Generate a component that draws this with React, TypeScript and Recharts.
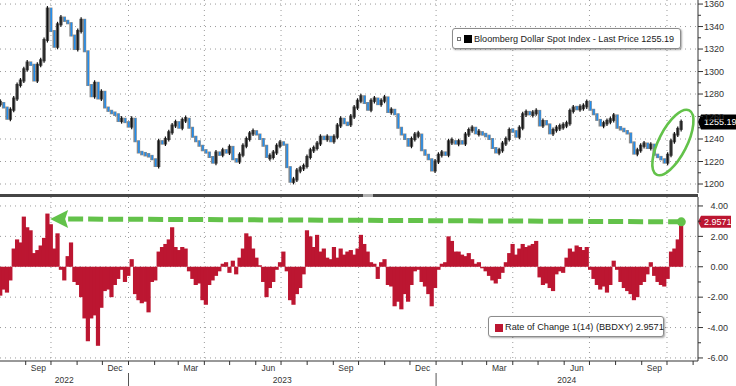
import React from 'react';
import { ComposedChart, Bar, XAxis, YAxis, CartesianGrid, ReferenceLine, ReferenceDot } from 'recharts';

const FONT = "'Liberation Sans', Arial, sans-serif";
const GREEN = '#63c24a';
const ROC_RED = '#bc1631';
const UP_BODY = '#5a5a5a';
const UP_WICK = '#111111';
const DOWN_BODY = '#8a8a8a';
const DOWN_LINE = '#1f8ef1';
const AXIS = '#333333';

// sampling: days relative to 2022-10-01, one sample every 4 calendar days
const FIRST_SAMPLE_DAY = -60;
const SAMPLE_STEP_DAYS = 4;

// Bloomberg Dollar Spot Index, close at each sample
const CLOSE = [
  1272, 1268, 1258, 1266, 1276, 1288, 1292, 1302, 1308, 1306,
  1292, 1306, 1310, 1328, 1356, 1336, 1322, 1342, 1348, 1345,
  1343, 1332, 1320, 1336, 1346, 1318, 1288, 1278, 1290, 1276,
  1282, 1268, 1265, 1263, 1262, 1256, 1258, 1255, 1251, 1258,
  1238, 1228, 1227, 1226, 1225, 1222, 1216, 1238, 1236, 1240,
  1246, 1252, 1255, 1250, 1257, 1258, 1250, 1242, 1238, 1234,
  1230, 1228, 1224, 1219, 1228, 1226, 1230, 1228, 1233, 1222,
  1220, 1226, 1234, 1240, 1245, 1247, 1244, 1240, 1234, 1224,
  1224, 1228, 1234, 1237, 1235, 1215, 1202, 1204, 1212, 1214,
  1216, 1224, 1230, 1232, 1236, 1242, 1240, 1242, 1238, 1242,
  1252, 1258, 1254, 1253, 1260, 1268, 1274, 1278, 1272, 1266,
  1274, 1276, 1271, 1274, 1277, 1264, 1266, 1262, 1250, 1244,
  1240, 1234, 1240, 1244, 1244, 1230, 1226, 1222, 1212, 1220,
  1226, 1228, 1226, 1238, 1238, 1236, 1238, 1236, 1244, 1248,
  1250, 1245, 1246, 1244, 1243, 1240, 1232, 1228, 1230, 1236,
  1240, 1248, 1247, 1242, 1250, 1262, 1264, 1262, 1263, 1265,
  1252, 1256, 1253, 1245, 1248, 1250, 1251, 1252, 1254, 1265,
  1268, 1267, 1268, 1269, 1273, 1266, 1262, 1257, 1252, 1254,
  1256, 1257, 1261, 1250, 1249, 1247, 1245, 1237, 1227, 1230,
  1234, 1236, 1232, 1235, 1226, 1224, 1222, 1219, 1226, 1238,
  1244, 1249, 1255.19,
];

// Rate of Change 1(14) (BBDXY), percent, at each sample
const ROC = [
  -1.9, -1.5, -1.7, -0.9, 1.2, 1.8, 1.6, 3.3, 2.6, 2.4,
  0.9, 1.1, 1.4, 1.9, 3.5, 2.8, 1.2, 2.2, -0.2, -0.9,
  0.7, 1.6, -1.0, -1.2, -2.0, -3.4, -4.9, -3.4, -3.2, -5.2,
  -2.7, -1.6, -1.5, -2.0, -1.2, -0.8, -0.2, -1.0, -0.6, 0.5,
  -1.8, -2.2, -2.4, -2.3, -3.0, -1.0, -0.9, 1.0, 1.3, 1.5,
  1.8, 2.6, 1.3, 1.1, 1.3, 1.2, -0.3, -0.8, -1.2, -1.1,
  -2.2, -2.5, -1.2, -0.9, -0.6, -0.3, 0.2, 0.3, -0.4, 0.4,
  -0.5, 0.6, 1.2, 2.2, 2.0, 1.2, 0.6, 0.1, -1.0, -2.0,
  -1.4, -1.0, -0.2, 0.3, 1.0, -0.3, -2.2, -2.5, -1.8, -1.4,
  -0.5, 2.4, 2.0, 1.3, 2.1, 1.0, 1.2, 0.6, 0.5, 1.3,
  0.6, 1.2, 0.8, 1.0, 1.1, 0.8, 1.2, 2.1, 1.5, 1.0,
  0.3, 0.2, -0.8, 0.3, 0.5, -1.2, -1.3, -2.6, -2.3, -2.8,
  -1.8, -2.3, -1.2, -0.3, -0.2, -1.0, -1.3, -1.8, -2.6, -1.4,
  -0.2, 0.2, 0.3, 2.0, 1.7, 1.0, 1.0, 0.8, 0.7, 0.9,
  0.5, 0.2, 0.3, -0.1, -0.3, -0.6, -0.9, -1.1, -0.8, -0.4,
  0.3, 0.9, 1.5, 0.8, 1.2, 1.5, 1.3, 1.4, 1.5, 1.7,
  -0.7, -1.2, -1.1, -1.4, -1.6, -0.5, -0.3, -0.4, 0.6, 1.2,
  1.0, 1.4, 1.3, 1.1, 1.3, -0.2, -0.8, -1.2, -1.5, -1.3,
  -1.7, -1.2, 0.4, -0.2, -1.0, -1.4, -1.6, -1.8, -2.2, -2.0,
  -1.2, -1.0, -0.5, 0.3, -0.6, -1.0, -1.2, -1.3, -0.8, 1.0,
  1.2, 1.8, 2.9571,
];

const LAST_PRICE = 1255.19;
const LAST_ROC = 2.9571;

const PRICE_DOMAIN = [1192, 1363.6];
const PRICE_TICKS = [1200, 1210, 1220, 1230, 1240, 1250, 1260, 1270, 1280, 1290, 1300, 1310, 1320, 1330, 1340, 1350, 1360];
const PRICE_GRID = [1200, 1220, 1240, 1260, 1280, 1300, 1320, 1340, 1360];
const ROC_DOMAIN = [-6.2, 4.59];
const ROC_TICKS = [-6, -5, -4, -3, -2, -1, 0, 1, 2, 3, 4];
const ROC_GRID = [-6, -4, -2, 0, 2, 4];

// x axis, days relative to 2022-10-01
const X_DOMAIN = [-60.5, 767.8];
const QUARTER_STARTS = [0, 92, 182, 273, 365, 457, 548, 639, 731];
const MONTH_STARTS = [-30, 0, 31, 61, 92, 123, 151, 182, 212, 243, 273, 304, 335, 365, 396, 426, 457, 488, 517, 548, 578, 609, 639, 670, 701, 731, 762];
const MONTH_LABELS: [string, number][] = [
  ['Sep', -15], ['Dec', 76], ['Mar', 166], ['Jun', 258], ['Sep', 350],
  ['Dec', 441], ['Mar', 532], ['Jun', 624], ['Sep', 716],
];
const YEAR_LABELS: [string, number][] = [['2022', 15.7], ['2023', 274.5], ['2024', 612]];
const YEAR_STARTS = [92, 457];

// annotations (data units)
const ARROW_START = { day: -1, value: 3.15 };
const ELLIPSE_CENTER = { day: 738, value: 1236.9 };

const sampleDay = (i: number) => FIRST_SAMPLE_DAY + i * SAMPLE_STEP_DAYS;
const LAST_DAY = sampleDay(CLOSE.length - 1);

const priceData = CLOSE.map((c, i) => {
  const prev = i === 0 ? c : CLOSE[i - 1];
  return { d: sampleDay(i), body: [Math.min(prev, c), Math.max(prev, c)], up: c >= prev };
});
const rocData = ROC.map((r, i) => ({ d: sampleDay(i), roc: r }));

const monthStartSet = new Set(MONTH_STARTS);
const yearStartSet = new Set(YEAR_STARTS);
const monthLabelMap = new Map(MONTH_LABELS.map(([l, d]) => [d, l]));
const yearLabelMap = new Map(YEAR_LABELS.map(([l, d]) => [d, l]));
const X_TICKS = Array.from(
  new Set([...MONTH_STARTS, ...MONTH_LABELS.map((m) => m[1]), ...YEAR_LABELS.map((y) => y[1])])
).sort((a, b) => a - b);

const CandleShape = (props: any) => {
  const { x, y, width, height, payload } = props;
  if (x == null || y == null) return <g />;
  const hAbs = Math.abs(height || 0);
  const top = (height || 0) >= 0 ? y : y + height;
  const mid = top + hAbs / 2;
  const h = Math.max(hAbs, 2.5);
  const cx = x + width / 2;
  const w = 3.4;
  if (payload && payload.up) {
    return (
      <g>
        <rect x={cx - w / 2} y={mid - h / 2 - 1} width={w} height={h + 2} fill={UP_BODY} />
        <line x1={cx} x2={cx} y1={mid - h / 2 - 2.5} y2={mid + h / 2 + 2.5} stroke={UP_WICK} strokeWidth={1.2} />
      </g>
    );
  }
  return (
    <g>
      <rect x={cx - w / 2} y={mid - h / 2 - 1} width={w} height={h + 2} fill={DOWN_BODY} />
      <line x1={cx + 0.4} x2={cx + 0.4} y1={mid - h / 2 - 0.5} y2={mid + h / 2 + 0.5} stroke={DOWN_LINE} strokeWidth={1.5} />
    </g>
  );
};

const RocShape = (props: any) => {
  const { x, y, width, height } = props;
  if (x == null || y == null) return <g />;
  const top = height >= 0 ? y : y + height;
  const cx = x + width / 2;
  const w = 4.2;
  return <rect x={cx - w / 2} y={top} width={w} height={Math.abs(height)} fill={ROC_RED} />;
};

const PriceTick = (props: any) => {
  const { x, y, payload } = props;
  const v = payload.value;
  const major = v % 20 === 0;
  return (
    <g>
      <line x1={x} x2={x + (major ? 5 : 3)} y1={y} y2={y} stroke={AXIS} strokeWidth={1} />
      {major && (
        <text x={x + 6} y={y + 3.2} fontSize={9} fill={AXIS} fontFamily={FONT}>
          {v}
        </text>
      )}
    </g>
  );
};

const RocTick = (props: any) => {
  const { x, y, payload } = props;
  const v = payload.value;
  const major = v % 2 === 0;
  return (
    <g>
      <line x1={x} x2={x + (major ? 5 : 3)} y1={y} y2={y} stroke={AXIS} strokeWidth={1} />
      {major && (
        <text x={x + 30} y={y + 3.2} fontSize={9} fill={AXIS} fontFamily={FONT} textAnchor="end">
          {v.toFixed(2)}
        </text>
      )}
    </g>
  );
};

const XTick = (props: any) => {
  const { x, y, payload } = props;
  const v = payload.value;
  const items: React.ReactNode[] = [];
  if (monthStartSet.has(v)) items.push(<line key="m" x1={x} x2={x} y1={y} y2={y + 4} stroke={AXIS} />);
  if (yearStartSet.has(v)) items.push(<line key="y" x1={x} x2={x} y1={y + 12} y2={y + 25} stroke="#555" />);
  const ml = monthLabelMap.get(v);
  if (ml)
    items.push(
      <text key="ml" x={x} y={y + 10} textAnchor="middle" fontSize={8.5} fill={AXIS} fontFamily={FONT}>
        {ml}
      </text>
    );
  const yl = yearLabelMap.get(v);
  if (yl)
    items.push(
      <text key="yl" x={x} y={y + 21.5} textAnchor="middle" fontSize={8.5} fill={AXIS} fontFamily={FONT}>
        {yl}
      </text>
    );
  return <g>{items}</g>;
};

const PriceTag = (props: any) => {
  const vb = props.viewBox || {};
  const x = (vb.x || 0) + (vb.width || 0);
  const y = vb.y || 0;
  return (
    <g>
      <path d={`M${x} ${y} L${x + 3} ${y - 7.5} H${x + 38} V${y + 7.5} H${x + 3} Z`} fill="#000" />
      <text x={x + 6} y={y + 3.2} fill="#fff" fontSize={9} fontFamily={FONT}>
        {LAST_PRICE.toFixed(2)}
      </text>
    </g>
  );
};

const RocTag = (props: any) => {
  const vb = props.viewBox || {};
  const x = (vb.x || 0) + (vb.width || 0);
  const y = vb.y || 0;
  return (
    <g>
      <path d={`M${x} ${y} L${x + 3} ${y - 6} H${x + 33} V${y + 6} H${x + 3} Z`} fill={ROC_RED} />
      <text x={x + 6} y={y + 3.2} fill="#fff" fontSize={9} fontFamily={FONT}>
        {LAST_ROC.toFixed(4)}
      </text>
    </g>
  );
};

const ArrowShape = (props: any) => {
  const { x1, y1, x2, y2 } = props;
  if (x1 == null) return <g />;
  const headLen = 18;
  const headHalf = 9;
  const bx = x1 + headLen;
  const by = y1 + ((y2 - y1) * headLen) / (x2 - x1);
  return (
    <g>
      <line x1={bx} y1={by} x2={x2} y2={y2} stroke={GREEN} strokeWidth={5} strokeDasharray="15 5" />
      <polygon points={`${x1},${y1} ${bx},${by - headHalf} ${bx - 3},${by} ${bx},${by + headHalf}`} fill={GREEN} />
      <circle cx={x2} cy={y2} r={4.5} fill={GREEN} />
    </g>
  );
};

const EllipseShape = (props: any) => {
  const { cx, cy } = props;
  if (cx == null) return <g />;
  return (
    <ellipse cx={cx} cy={cy} rx={14} ry={36} transform={`rotate(27 ${cx} ${cy})`} fill="none" stroke={GREEN} strokeWidth={2.6} />
  );
};

const legendBox: React.CSSProperties = {
  position: 'absolute',
  background: '#fff',
  border: '1px solid #8c8c8c',
  borderRadius: 3,
  boxShadow: '1px 1px 2px rgba(0,0,0,0.35)',
  boxSizing: 'border-box',
  fontFamily: FONT,
  color: '#1a1a1a',
  whiteSpace: 'nowrap',
};

export default function App() {
  return (
    <div style={{ position: 'absolute', left: 0, top: 0, width: 736, height: 386, background: '#fff', overflow: 'hidden' }}>
      <div style={{ position: 'absolute', left: 0, top: 0 }}>
        <ComposedChart width={736} height={194} data={priceData} margin={{ top: 0, right: 0, left: 0, bottom: 1 }}>
          <CartesianGrid stroke="#9a9a9a" strokeDasharray="1 4" horizontalValues={PRICE_GRID} verticalValues={QUARTER_STARTS} />
          <XAxis type="number" dataKey="d" domain={X_DOMAIN} allowDataOverflow hide />
          <YAxis
            orientation="right"
            width={38}
            type="number"
            domain={PRICE_DOMAIN}
            allowDataOverflow
            ticks={PRICE_TICKS}
            interval={0}
            tick={<PriceTick />}
            tickLine={false}
            tickSize={0}
            tickMargin={0}
            axisLine={{ stroke: AXIS }}
          />
          <Bar dataKey="body" shape={<CandleShape />} barSize={3} isAnimationActive={false} />
          <ReferenceDot x={ELLIPSE_CENTER.day} y={ELLIPSE_CENTER.value} r={1} shape={<EllipseShape />} />
          <ReferenceLine y={LAST_PRICE} stroke="none" label={<PriceTag />} />
        </ComposedChart>
      </div>
      <div style={{ position: 'absolute', left: 0, top: 194, width: 698, height: 3, background: '#454545' }} />
      <div style={{ position: 'absolute', left: 363, top: 194, width: 10, height: 3, background: '#b0b0b0' }} />
      <div style={{ position: 'absolute', left: 0, top: 194 }}>
        <ComposedChart width={736} height={192} data={rocData} margin={{ top: 3, right: 0, left: 0, bottom: 0 }}>
          <CartesianGrid stroke="#9a9a9a" strokeDasharray="1 4" horizontalValues={ROC_GRID} verticalValues={QUARTER_STARTS} />
          <XAxis
            type="number"
            dataKey="d"
            domain={X_DOMAIN}
            allowDataOverflow
            ticks={X_TICKS}
            interval={0}
            height={25}
            tick={<XTick />}
            tickLine={false}
            tickSize={0}
            tickMargin={0}
            axisLine={{ stroke: AXIS }}
          />
          <YAxis
            orientation="right"
            width={38}
            type="number"
            domain={ROC_DOMAIN}
            allowDataOverflow
            ticks={ROC_TICKS}
            interval={0}
            tick={<RocTick />}
            tickLine={false}
            tickSize={0}
            tickMargin={0}
            axisLine={{ stroke: AXIS }}
          />
          <Bar dataKey="roc" shape={<RocShape />} barSize={3} isAnimationActive={false} />
          <ReferenceLine
            segment={[
              { x: ARROW_START.day, y: ARROW_START.value },
              { x: LAST_DAY, y: LAST_ROC },
            ]}
            shape={<ArrowShape />}
          />
          <ReferenceLine y={LAST_ROC} stroke="none" label={<RocTag />} />
        </ComposedChart>
      </div>
      <div style={{ ...legendBox, left: 452, top: 28, width: 229, height: 21 }}>
        <div style={{ position: 'absolute', left: 4, top: 8, width: 4, height: 4, border: '1px solid #777', boxSizing: 'border-box' }} />
        <div style={{ position: 'absolute', left: 11, top: 6, width: 8, height: 8, background: '#000' }} />
        <div style={{ position: 'absolute', left: 21, top: 3.5, fontSize: 9.1, lineHeight: '12px' }}>
          Bloomberg Dollar Spot Index - Last Price 1255.19
        </div>
      </div>
      <div style={{ ...legendBox, left: 488, top: 316, width: 176, height: 21 }}>
        <div style={{ position: 'absolute', left: 6, top: 6.5, width: 8, height: 8, background: ROC_RED }} />
        <div style={{ position: 'absolute', left: 16, top: 4, fontSize: 9.2, lineHeight: '12px' }}>
          Rate of Change 1(14) (BBDXY) 2.9571
        </div>
      </div>
    </div>
  );
}
